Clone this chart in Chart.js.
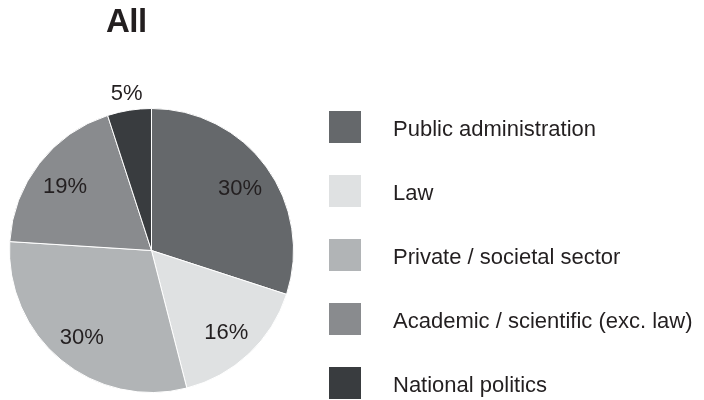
<!DOCTYPE html>
<html lang="en">
  <head>
    <meta charset="UTF-8">
    <title>All</title>
    <script src="https://cdn.jsdelivr.net/npm/chart.js@4.4.1/dist/chart.umd.min.js"></script>
    <style>
      html, body { margin: 0; padding: 0; background: #fff; }
      body { width: 704px; height: 400px; position: relative; overflow: hidden;
             font-family: "Liberation Sans", Arial, sans-serif; color: #231f20; }
      #title { position: absolute; left: 106px; top: 2px; font-size: 33px; font-weight: bold;
               letter-spacing: -0.5px; }
      #chart-box { position: absolute; left: 0; top: 0; width: 704px; height: 400px; }
      #legend { position: absolute; left: 329px; top: 111px; margin: 0; padding: 0; list-style: none; }
      #legend li { display: flex; align-items: center; height: 32px; margin-bottom: 32px;
                   font-size: 22px; }
      #legend span.box { display: inline-block; width: 32px; height: 32px; margin-right: 32px; }
      #legend span.name { position: relative; top: 2px; }
    </style>
  </head>
  <body>
    <div id="chart-box"><canvas id="pie"></canvas></div>
    <div id="title">All</div>
    <ul id="legend"></ul>
    <script>
      const labels = ['Public administration', 'Law', 'Private / societal sector',
                      'Academic / scientific (exc. law)', 'National politics'];
      const shares = [30, 16, 30, 19, 5];
      const colours = ['#65686b', '#dfe1e2', '#b1b4b6', '#898b8e', '#393c3f'];

      // percent labels inside the slices, small ones pushed outside
      const sliceLabels = {
        id: 'sliceLabels',
        afterDatasetsDraw(chart) {
          const ctx = chart.ctx;
          const meta = chart.getDatasetMeta(0);
          ctx.save();
          ctx.font = '22px "Liberation Sans", Arial, sans-serif';
          ctx.fillStyle = '#231f20';
          ctx.textAlign = 'center';
          ctx.textBaseline = 'middle';
          meta.data.forEach((arc, i) => {
            const p = arc.getProps(['x', 'y', 'startAngle', 'endAngle', 'outerRadius'], true);
            const mid = (p.startAngle + p.endAngle) / 2;
            const outside = shares[i] < 8;
            const d = outside ? p.outerRadius + 17 : p.outerRadius * 0.77;
            const dy = outside ? 0 : 3;
            ctx.fillText(shares[i] + '%', p.x + Math.cos(mid) * d, p.y + Math.sin(mid) * d + dy);
          });
          ctx.restore();
        }
      };

      new Chart(document.getElementById('pie'), {
        type: 'pie',
        data: {
          labels: labels,
          datasets: [{
            data: shares,
            backgroundColor: colours,
            borderColor: '#ffffff',
            borderWidth: 1
          }]
        },
        options: {
          responsive: true,
          maintainAspectRatio: false,
          animation: false,
          layout: { padding: { left: 8, right: 409, top: 108, bottom: 7 } },
          plugins: {
            legend: { display: false },
            tooltip: { enabled: false }
          }
        },
        plugins: [sliceLabels]
      });

      const legend = document.getElementById('legend');
      labels.forEach((name, i) => {
        const li = document.createElement('li');
        const box = document.createElement('span');
        box.className = 'box';
        box.style.background = colours[i];
        const text = document.createElement('span');
        text.className = 'name';
        text.textContent = name;
        li.appendChild(box);
        li.appendChild(text);
        legend.appendChild(li);
      });
    </script>
  </body>
</html>
